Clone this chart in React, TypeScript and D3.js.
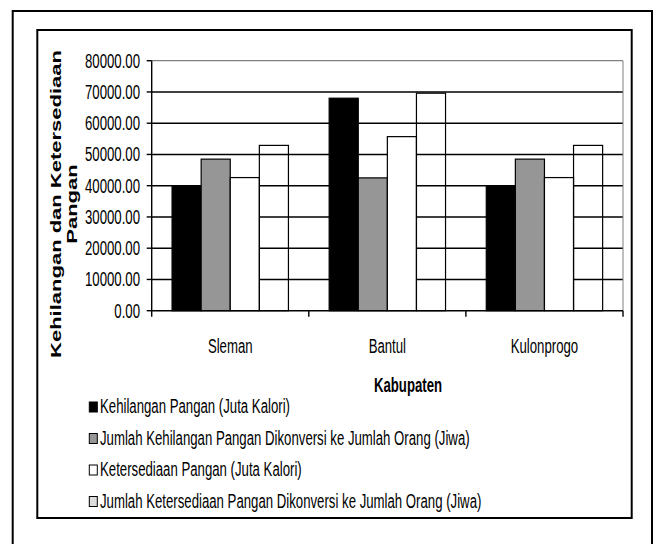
import React from "react";
import * as d3 from "d3";

const categories = ["Sleman", "Bantul", "Kulonprogo"];
const seriesNames = [
  "Kehilangan Pangan (Juta Kalori)",
  "Jumlah Kehilangan Pangan Dikonversi ke Jumlah Orang (Jiwa)",
  "Ketersediaan Pangan (Juta Kalori)",
  "Jumlah Ketersediaan Pangan Dikonversi ke Jumlah Orang (Jiwa)",
];
const kehilanganKalori = [39700, 68000, 39700];
const kehilanganJiwa = [48500, 42500, 48500];
const ketersediaanKalori = [42600, 55700, 42600];
const ketersediaanJiwa = [52900, 69600, 52900];
const seriesValues = [kehilanganKalori, kehilanganJiwa, ketersediaanKalori, ketersediaanJiwa];
const yTicks = [0, 10000, 20000, 30000, 40000, 50000, 60000, 70000, 80000];
const barFills = ["#000000", "#969696", "#ffffff", "none"];
const legendFills = ["#000000", "#969696", "#ffffff", "#dcdcdc"];

const W = 665;
const H = 544;
const FONT = "'Liberation Sans', Arial, sans-serif";
const SX = 0.66;
const FS = 20;

const plot = { left: 151.7, right: 623, top: 60.7, bottom: 310.7 };

function T(props: {
  x: number;
  y: number;
  anchor?: string;
  bold?: boolean;
  size?: number;
  rotate?: boolean;
  children: React.ReactNode;
}) {
  const { x, y, anchor = "start", bold = false, size = FS, rotate = false, children } = props;
  const tr = rotate
    ? `translate(${x},${y}) scale(${SX},1) rotate(-90)`
    : `translate(${x},${y}) scale(${SX},1)`;
  return (
    <text
      transform={tr}
      textAnchor={anchor}
      fontFamily={FONT}
      fontSize={size}
      fontWeight={bold ? "bold" : "normal"}
      fill="#000"
    >
      {children}
    </text>
  );
}

export default function App() {
  const x = d3.scaleBand<string>().domain(categories).range([plot.left, plot.right]).padding(0);
  const inner = d3
    .scaleBand<number>()
    .domain(seriesValues.map((_, i) => i))
    .range([0, x.bandwidth()])
    .paddingInner(0)
    .paddingOuter(0.7);
  const y = d3.scaleLinear().domain([0, 80000]).range([plot.bottom, plot.top]);
  const fmt = d3.format(".2f");

  const boundaries = [...categories.map((c) => x(c) as number), plot.right];
  const legendY0 = 413;
  const legendStep = 31.5;

  return (
    <div style={{ position: "absolute", left: 0, top: 0 }}>
      <svg width={W} height={H} style={{ display: "block", background: "#fff" }}>
        {/* outer border */}
        <rect x={12.7} y={11} width={639.3} height={560} fill="none" stroke="#000" strokeWidth={2} />
        {/* inner chart frame */}
        <rect x={37.3} y={30} width={594.4} height={488} fill="#fff" stroke="#000" strokeWidth={2} />

        {/* gridlines */}
        {yTicks
          .filter((t) => t > 0 && t < 80000)
          .map((t) => (
            <line key={t} x1={plot.left} x2={plot.right} y1={y(t)} y2={y(t)} stroke="#000" strokeWidth={1.4} />
          ))}
        {/* plot area border top/right */}
        <line x1={plot.left} x2={plot.right} y1={y(80000)} y2={y(80000)} stroke="#808080" strokeWidth={1.2} />
        <line x1={plot.right} x2={plot.right} y1={plot.top} y2={plot.bottom} stroke="#808080" strokeWidth={1} />

        {/* bars */}
        {seriesValues.map((vals, si) =>
          vals.map((v, ci) => (
            <rect
              key={`${si}-${ci}`}
              x={(x(categories[ci]) as number) + (inner(si) as number)}
              y={y(v)}
              width={inner.bandwidth()}
              height={plot.bottom - y(v)}
              fill={barFills[si]}
              stroke="#000"
              strokeWidth={1.2}
            />
          ))
        )}

        {/* y axis */}
        <line x1={plot.left} x2={plot.left} y1={plot.top} y2={plot.bottom} stroke="#000" strokeWidth={1.4} />
        {yTicks.map((t) => (
          <g key={t}>
            <line x1={plot.left - 5} x2={plot.left} y1={y(t)} y2={y(t)} stroke="#000" strokeWidth={1.4} />
            <T x={140} y={y(t) + 7} anchor="end">
              {fmt(t)}
            </T>
          </g>
        ))}

        {/* x axis */}
        <line x1={plot.left} x2={plot.right} y1={plot.bottom} y2={plot.bottom} stroke="#000" strokeWidth={1.4} />
        {boundaries.map((b, i) => (
          <line key={i} x1={b} x2={b} y1={plot.bottom} y2={plot.bottom + 6} stroke="#000" strokeWidth={1.4} />
        ))}
        {categories.map((c) => (
          <T key={c} x={(x(c) as number) + x.bandwidth() / 2} y={352.7} anchor="middle">
            {c}
          </T>
        ))}

        {/* axis titles */}
        <T x={408} y={391.5} anchor="middle" bold>
          Kabupaten
        </T>
        <T x={61} y={204} anchor="middle" bold rotate size={22}>
          Kehilangan dan Ketersediaan
        </T>
        <T x={77} y={204} anchor="middle" bold rotate size={22}>
          Pangan
        </T>

        {/* legend */}
        {seriesNames.map((name, i) => {
          const by = legendY0 + i * legendStep;
          return (
            <g key={name}>
              <rect x={89.3} y={by - 11} width={8} height={10} fill={legendFills[i]} stroke="#000" strokeWidth={1} />
              <T x={100} y={by}>
                {name}
              </T>
            </g>
          );
        })}
      </svg>
    </div>
  );
}
